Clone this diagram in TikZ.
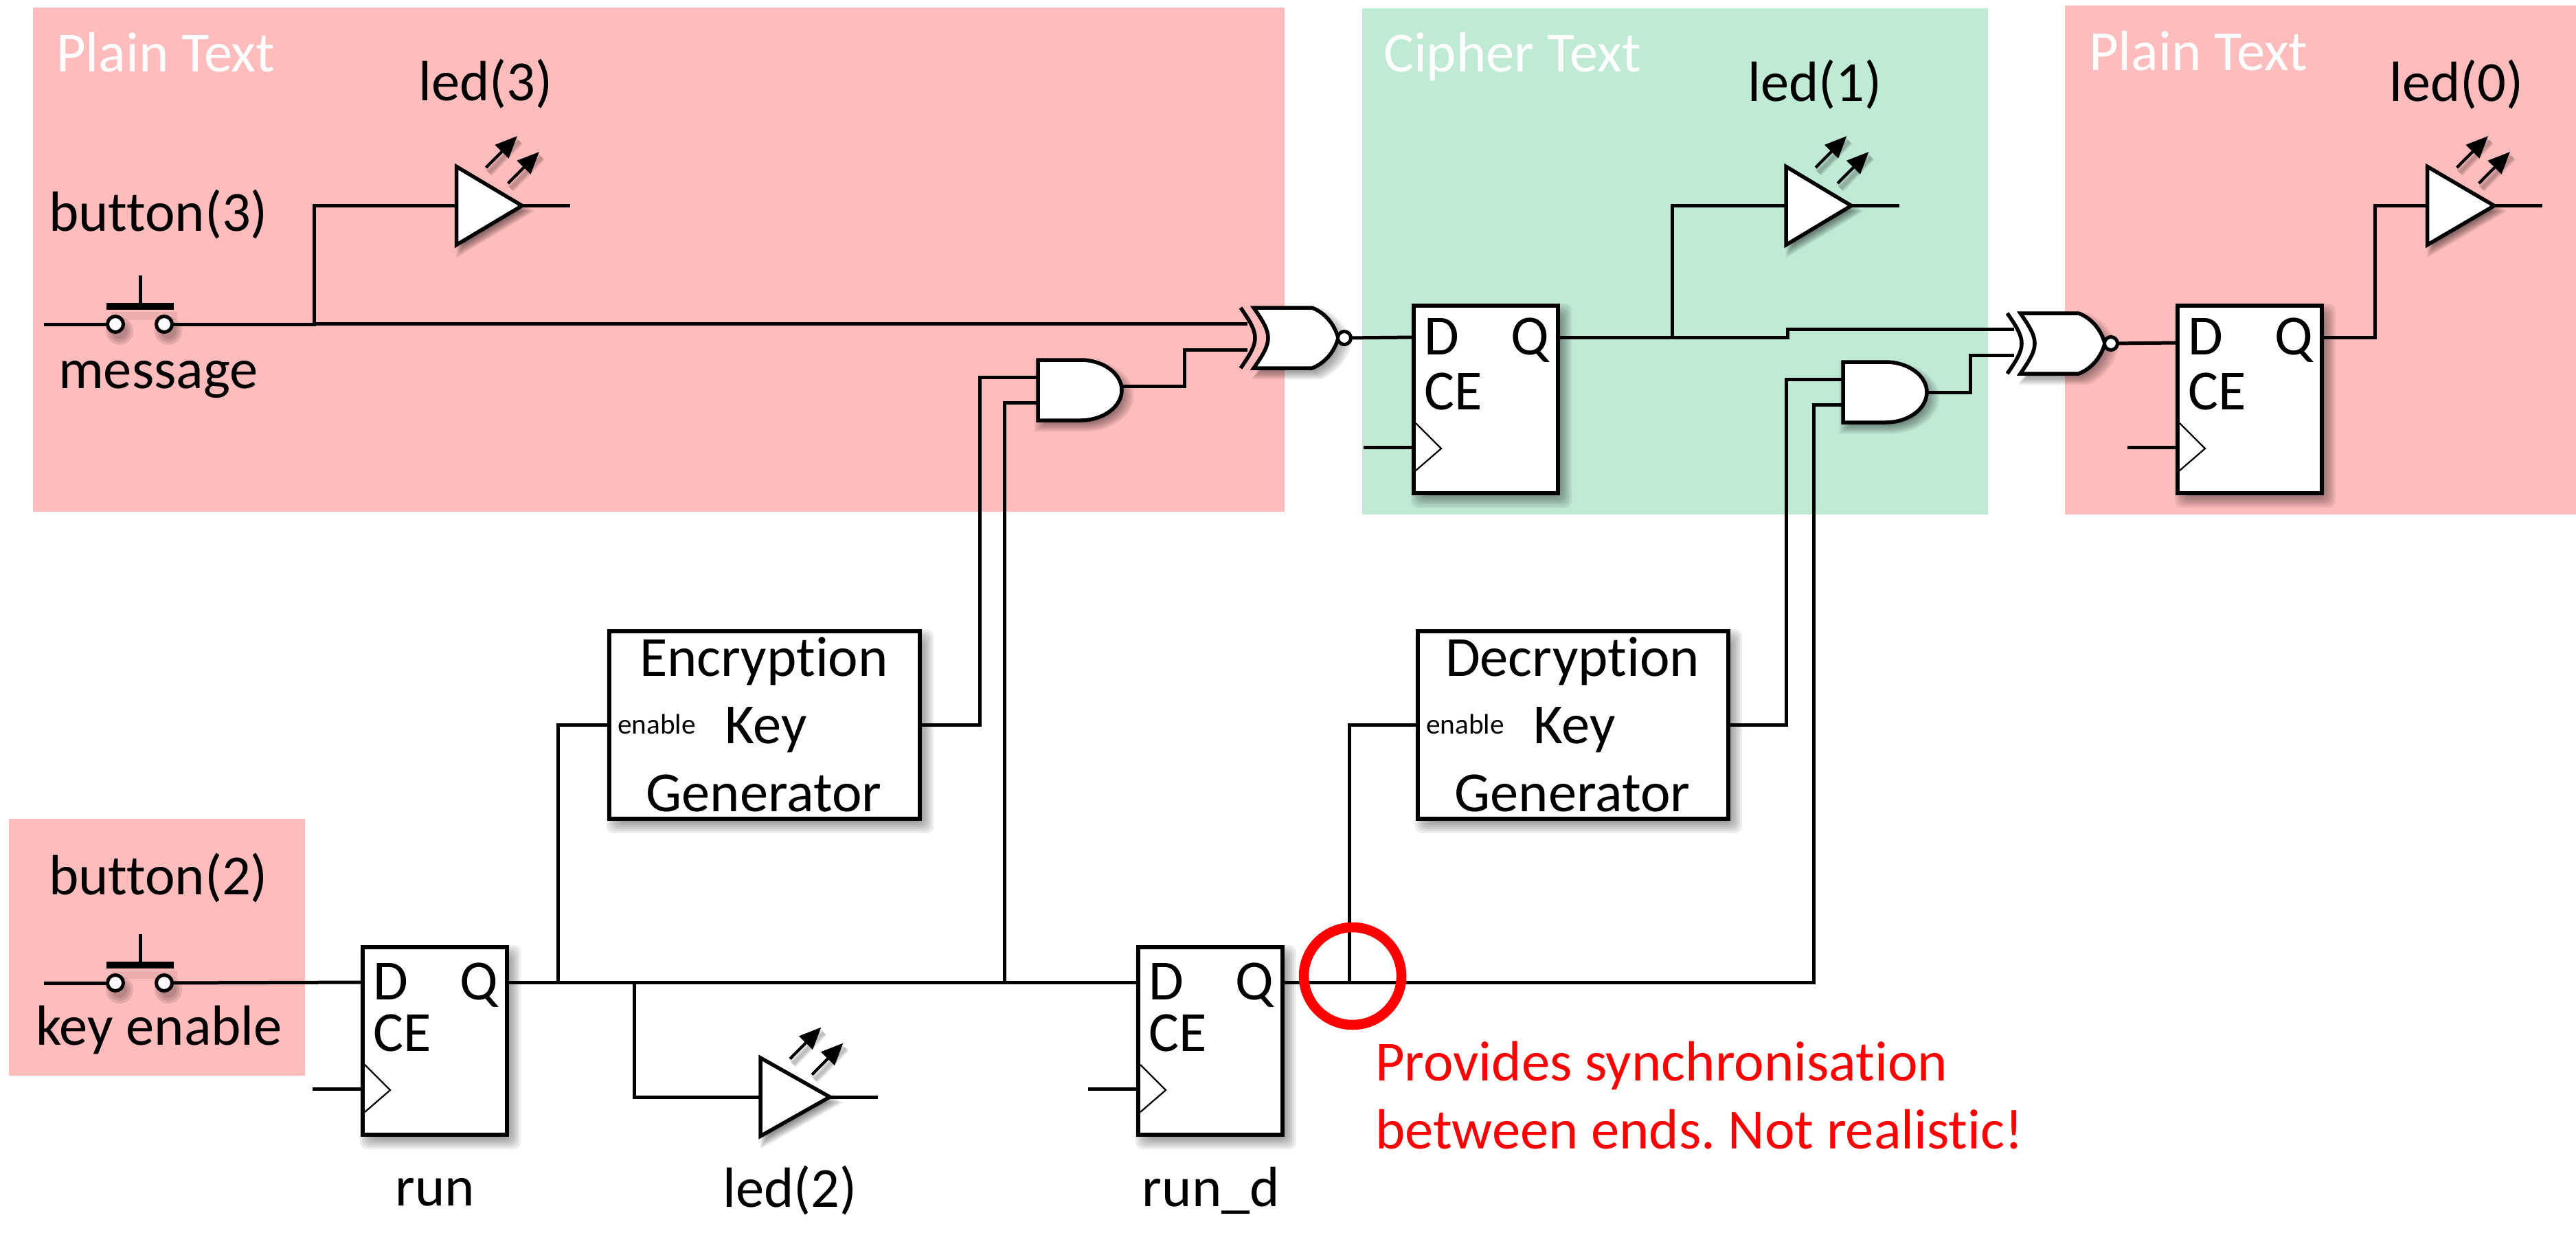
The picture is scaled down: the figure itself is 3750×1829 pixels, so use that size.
\documentclass[tikz,border=0pt]{standalone}
\usepackage{fontspec}
\setmainfont{Carlito}[Ligatures=NoCommon]
\usetikzlibrary{arrows.meta}
\definecolor{pinkbg}{HTML}{FFBCBC}
\definecolor{greenbg}{HTML}{BFEAD4}
\frenchspacing
\tikzset{
  wire/.style={line width=1mm,line cap=butt,line join=miter},
  outline/.style={line width=1.1mm,line join=miter,fill=white},
  ffbox/.style={rectangle,draw,outline,inner sep=0,outer sep=0,minimum width=42mm,minimum height=54.6mm},
  keybox/.style={rectangle,draw,outline,inner sep=0,outer sep=0,minimum width=90.4mm,minimum height=54.6mm},
  txt/.style={font=\fontsize{47pt}{50pt}\selectfont,inner sep=0,outer sep=0},
  small/.style={font=\fontsize{23.5pt}{26pt}\selectfont,inner sep=0,outer sep=0},
  pin/.style={circle,draw,fill=white,line width=1mm,inner sep=0,outer sep=0,minimum size=4.6mm},
  bubble/.style={circle,draw,fill=white,line width=1mm,inner sep=0,outer sep=0,minimum size=3.8mm},
  lightarrow/.style={-{Triangle[length=6.4mm,width=5.4mm]},line width=0.85mm},
  clockmark/.style={line width=0.45mm,line join=miter},
  ringmark/.style={circle,draw=red,line width=2.9mm,inner sep=0,outer sep=0,minimum size=28.4mm}
}
% soft shadows
\newcommand{\softbox}[4]{%
  \foreach \e in {-9,-6,-3,0,3,6,9,12}{%
    \fill[black,fill opacity=0.07,rounded corners=2mm] ({#1+8-\e},{#2+9-\e}) rectangle ({#3+8+\e},{#4+9+\e});
  }}
\newcommand{\softshape}[3]{%
  \foreach \s in {0.84,0.89,0.94,0.99,1.04,1.09,1.14,1.19}{%
    \fill[black,fill opacity=0.07,shift={(6,8)},scale around={\s:(#1,#2)}] #3;
  }}
\newcommand{\xnorgate}[3]{%
  \begin{scope}[shift={(#2,#3)}]
    \softshape{50}{44}{(0,0) -- (85,0) .. controls (105,8) and (118,25) .. (123,44) .. controls (118,63) and (105,80) .. (85,88) -- (0,88) .. controls (14,68) and (21,56) .. (21,44) .. controls (21,32) and (14,20) .. (0,0) -- cycle}
    \draw[outline] (0,0) -- (85,0) .. controls (105,8) and (118,25) .. (123,44) .. controls (118,63) and (105,80) .. (85,88) -- (0,88) .. controls (14,68) and (21,56) .. (21,44) .. controls (21,32) and (14,20) .. (0,0) -- cycle;
    \draw[line width=1.1mm] (-19,0) .. controls (-5,20) and (2,32) .. (2,44) .. controls (2,56) and (-5,68) .. (-19,88);
    \node[bubble] (#1-bub) at (132,44) {};
    \coordinate (#1-a) at (-9,23);
    \coordinate (#1-b) at (-9,61);
  \end{scope}}
\newcommand{\andgate}[3]{%
  \begin{scope}[shift={(#2,#3)}]
    \softshape{60}{44}{(0,0) -- (62,0) .. controls (95,0) and (122,20) .. (122,44) .. controls (122,68) and (95,88) .. (62,88) -- (0,88) -- cycle}
    \draw[outline] (0,0) -- (62,0) .. controls (95,0) and (122,20) .. (122,44) .. controls (122,68) and (95,88) .. (62,88) -- (0,88) -- cycle;
    \coordinate (#1-a) at (0,25);
    \coordinate (#1-b) at (0,62);
  \end{scope}}
\newcommand{\ledgate}[4]{%
  \begin{scope}[shift={(#2,#3)}]
    \softshape{32}{0}{(0,-57) -- (#4,0) -- (0,57) -- cycle}
    \draw[outline] (0,-57) -- (#4,0) -- (0,57) -- cycle;
    \coordinate (#1-in) at (0,0);
    \coordinate (#1-out) at (#4,0);
    \coordinate (#1-end) at ({#4+70},0);
    \coordinate (#1-s1) at (43,-55.5);
    \coordinate (#1-e1) at (88.5,-101.5);
    \coordinate (#1-s2) at (75,-32.5);
    \coordinate (#1-e2) at (120.5,-78.5);
    \foreach \w in {2.4,1.7,1.0}{%
      \draw[black,draw opacity=0.09,line width=\w mm] (47,-48) -- (92,-94);
      \draw[black,draw opacity=0.09,line width=\w mm] (79,-25) -- (124,-71);
    }
    \draw[lightarrow] (#1-s1) -- (#1-e1);
    \draw[lightarrow] (#1-s2) -- (#1-e2);
  \end{scope}}
\newcommand{\pushbtn}[3]{%
  \begin{scope}[shift={(#2,#3)}]
    \foreach \r in {20,16,12}{%
      \fill[black,fill opacity=0.1] (6,10) circle[radius=\r];
      \fill[black,fill opacity=0.1] (77,10) circle[radius=\r];
    }
    \fill[black,fill opacity=0.08] (-6,-18) rectangle (90,-6);
    \node[pin] (#1-l) at (0,0) {};
    \node[pin] (#1-r) at (71,0) {};
    \coordinate (#1-top) at (36,-71);
    \coordinate (#1-bar) at (36,-26);
    \coordinate (#1-bl) at (-13,-26);
    \coordinate (#1-br) at (85,-26);
    \draw[wire] (#1-top) -- (#1-bar);
    \draw[line width=1.9mm] (#1-bl) -- (#1-br);
  \end{scope}}
\newcommand{\ffblock}[5]{%
  \softbox{#2}{#3}{#2+210}{#3+273}
  \node[ffbox] (#1) at ({#2+105},{#3+136.5}) {};
  \begin{scope}[shift={(#2,#3)}]
    \node[txt,anchor=base west] (#1-dl) at (15,{#5+25}) {D};
    \node[txt,anchor=base west] (#1-ql) at (141,{#5+25}) {Q};
    \node[txt,anchor=base west] (#1-cl) at (15,151) {CE};
    \coordinate (#1-c1) at (3,171);
    \coordinate (#1-c2) at (40,208);
    \coordinate (#1-c3) at (3,240);
    \draw[clockmark] (#1-c1) -- (#1-c2) -- (#1-c3);
    \coordinate (#1-D) at (0,#4);
    \coordinate (#1-Q) at (210,#5);
    \coordinate (#1-C) at (0,206);
    \coordinate (#1-Cend) at (-73,206);
    \draw[wire] (#1-Cend) -- (#1-C);
  \end{scope}}
\begin{document}
\begin{tikzpicture}[x=0.2mm,y=-0.2mm]
\useasboundingbox (0,0) rectangle (3750,1829);
% regions
\fill[pinkbg] (48,11) rectangle (1870,745);
\fill[greenbg] (1983,12) rectangle (2894,749);
\fill[pinkbg] (3006,8) rectangle (3750,749);
\fill[pinkbg] (13,1192) rectangle (444,1566);
\node[txt,text=white,anchor=base west] (t1) at (82,104) {Plain Text};
\node[txt,text=white,anchor=base west] (t2) at (2014,104) {Cipher Text};
\node[txt,text=white,anchor=base west] (t3) at (3041,102) {Plain Text};
% junctions
\coordinate (j1) at (457,472);
\coordinate (j2) at (812.5,1430);
\coordinate (j3) at (923,1430);
\coordinate (j4) at (1462.5,1430);
\coordinate (j5) at (1964,1431);
\coordinate (j6) at (2434,491);
\coordinate (b3start) at (64,472);
\coordinate (b2start) at (64,1431);
% components
\pushbtn{b3}{168}{472}
\pushbtn{b2}{168}{1431}
\ledgate{led3}{664.5}{299.5}{95.5}
\ledgate{led1}{2600}{299.5}{95}
\ledgate{led0}{3533.5}{299.5}{97.5}
\ledgate{led2}{1107}{1597}{101}
\xnorgate{x1}{1825}{448}
\xnorgate{x2}{2941}{456}
\andgate{a1}{1511}{524}
\andgate{a2}{2683}{527}
\ffblock{ff1}{2058}{445}{46}{46}
\ffblock{ff2}{3170}{445}{54}{46}
\ffblock{ff3}{528}{1379}{51}{51}
\ffblock{ff4}{1657}{1379}{51}{51}
\softbox{887}{919}{1339}{1192}
\node[keybox] (enc) at (1113,1055.5) {};
\softbox{2064}{919}{2516}{1192}
\node[keybox] (dec) at (2290,1055.5) {};
% box texts
\node[txt,anchor=base] (e1) at (1112,984) {Encryption};
\node[txt,anchor=base] (e2) at (1115,1082) {Key};
\node[txt,anchor=base] (e3) at (1112,1181) {Generator};
\node[small,anchor=base] (e0) at (956,1068) {enable};
\node[txt,anchor=base] (d1) at (2289,984) {Decryption};
\node[txt,anchor=base] (d2) at (2292,1082) {Key};
\node[txt,anchor=base] (d3) at (2289,1181) {Generator};
\node[small,anchor=base] (d0) at (2133,1068) {enable};
% wires
\draw[wire] (b3start) -- (b3-l);
\draw[wire] (b3-r) -- (j1) -- (x1-a -| j1) -- (x1-a);
\draw[wire] (j1) -- (457,299.5) -- (led3-in);
\draw[wire] (led3-out) -- (led3-end);
\draw[wire] (led1-out) -- (led1-end);
\draw[wire] (led0-out) -- (led0-end);
\draw[wire] (led2-out) -- (led2-end);
\draw[wire] (b2start) -- (b2-l);
\draw[wire] (b2-r) -- (ff3-D);
\draw[wire] (ff3-Q) -- (ff4-D);
\draw[wire] (j2) -- (enc.west -| j2) -- (enc.west);
\draw[wire] (j3) -- (j3 |- led2-in) -- (led2-in);
\draw[wire] (j4) -- (j4 |- a1-b) -- (a1-b);
\draw[wire] (enc.east) -- (1426,1055.5) -- (1426,549) -- (a1-a);
\coordinate (a1-o) at (1633,562);
\draw[wire] (a1-o) -- (1724,562) -- (1724,509) -- (x1-b);
\draw[wire] (x1-bub) -- (ff1-D);
\draw[wire] (ff1-Q) -- (2602,491) -- (2602,479) -- (x2-a);
\draw[wire] (j6) -- (j6 |- led1-in) -- (led1-in);
\draw[wire] (ff4-Q) -- (2640,1430) -- (2640,589) -- (a2-b);
\draw[wire] (j5) -- (j5 |- dec.west) -- (dec.west);
\draw[wire] (dec.east) -- (2600,1055.5) -- (2600,552) -- (a2-a);
\coordinate (a2-o) at (2807,571);
\draw[wire] (a2-o) -- (2868,571) -- (2868,517) -- (x2-b);
\draw[wire] (x2-bub) -- (ff2-D);
\draw[wire] (ff2-Q) -- (3457,491) -- (3457,299.5) -- (led0-in);
% ring and note
\node[ringmark] (ring) at (1969,1421) {};
\node[txt,text=red,anchor=base west] (n1) at (2002,1573) {Provides synchronisation};
\node[txt,text=red,anchor=base west] (n2) at (2002,1672) {between ends. Not realistic!};
% labels
\node[txt,anchor=base] (l3) at (707,146) {led(3)};
\node[txt,anchor=base] (l1) at (2642,147) {led(1)};
\node[txt,anchor=base] (l0) at (3576,147) {led(0)};
\node[txt,anchor=base] (l2) at (1150,1757) {led(2)};
\node[txt,anchor=base west] (bt3) at (71,336) {button(3)};
\node[txt,anchor=base west] (msg) at (85,565) {message};
\node[txt,anchor=base west] (bt2) at (71,1302) {button(2)};
\node[txt,anchor=base west] (ke) at (52,1521) {key enable};
\node[txt,anchor=base] (rn) at (633,1755) {run};
\node[txt,anchor=base] (rnd) at (1763,1756) {run\_d};
\end{tikzpicture}
\end{document}
